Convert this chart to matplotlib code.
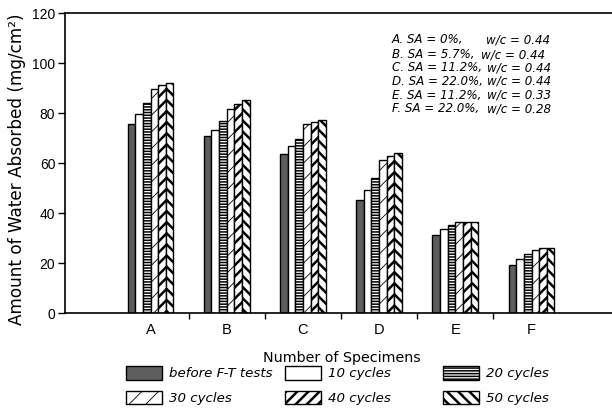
import matplotlib
matplotlib.use("Agg")
import matplotlib.pyplot as plt
from matplotlib.patches import Rectangle

# ---- data -------------------------------------------------------------
specimens = ["A", "B", "C", "D", "E", "F"]
before_ft = [75.3, 70.6, 63.6, 44.9, 30.9, 19.1]
cycles_10 = [79.6, 73.0, 66.6, 49.0, 33.4, 21.6]
cycles_20 = [84.0, 76.7, 69.6, 54.0, 34.9, 23.5]
cycles_30 = [89.6, 81.3, 75.3, 61.0, 36.4, 25.2]
cycles_40 = [91.2, 83.3, 76.3, 62.6, 36.4, 25.7]
cycles_50 = [91.7, 84.9, 77.1, 64.0, 36.4, 25.7]
series_labels = ["before F-T tests", "10 cycles", "20 cycles",
                 "30 cycles", "40 cycles", "50 cycles"]
y_ticks = [0, 20, 40, 60, 80, 100, 120]

mix_sa = ["A. SA = 0%,", "B. SA = 5.7%,", "C. SA = 11.2%,",
          "D. SA = 22.0%,", "E. SA = 11.2%,", "F. SA = 22.0%,"]
mix_wc = ["w/c = 0.44", "w/c = 0.44", "w/c = 0.44",
          "w/c = 0.44", "w/c = 0.33", "w/c = 0.28"]

series = [before_ft, cycles_10, cycles_20, cycles_30, cycles_40, cycles_50]

# fill / hatch style of each series: (facecolor, hatch, hatch linewidth)
styles = [
    ("#5e5e5e", None, 1.0),
    ("white", None, 1.0),
    ("white", "------", 1.1),
    ("white", "//", 0.6),
    ("white", "///", 1.8),
    ("white", "\\\\\\", 1.8),
]

W, H = 612, 410
fig = plt.figure(figsize=(W / 100, H / 100), dpi=100)


def fx(px):
    return px / W


def fy(py):
    return 1 - py / H


ax = fig.add_axes([fx(65), fy(313.5), fx(612 - 65), (313.5 - 13.5) / H])

bar_w = 0.1
n = len(series)
for j, (vals, (fc, hatch, hlw)) in enumerate(zip(series, styles)):
    xs = [i + (j - (n - 1) / 2) * bar_w for i in range(len(specimens))]
    with plt.rc_context({"hatch.linewidth": hlw}):
        bars = ax.bar(xs, vals, width=bar_w, color=fc, edgecolor="black",
                      linewidth=1.0, hatch=hatch, zorder=2)
    for b in bars:
        if hasattr(b, "set_hatch_linewidth"):
            b.set_hatch_linewidth(hlw)

ax.set_xlim(-1.122, 6.056)
ax.set_ylim(0, 120)
ax.set_yticks(y_ticks)
ax.set_yticklabels([str(t) for t in y_ticks], family="Liberation Sans",
                   fontsize=10)
ax.set_xticks(range(len(specimens)))
ax.set_xticklabels(specimens, family="Liberation Sans", fontsize=10.5)
ax.set_xticks([i + 0.5 for i in range(len(specimens) - 1)], minor=True)
ax.tick_params(axis="x", which="major", length=0, pad=6.5)
ax.tick_params(axis="x", which="minor", length=4, width=1.0, direction="out")
ax.tick_params(axis="y", length=5, width=1.0, direction="out", pad=2)

for side in ("left", "top", "bottom"):
    ax.spines[side].set_linewidth(1.2)
ax.spines["right"].set_visible(False)

# axis titles
fig.text(fx(17), fy(169), "Amount of Water Absorbed (mg/cm\u00b2)",
         rotation=90, ha="center", va="center", family="DejaVu Sans",
         fontsize=12.2)
fig.text(fx(341.5), fy(358.5), "Number of Specimens", ha="center",
         va="center", family="DejaVu Sans", fontsize=10.3)

# mix description block
line_y = [40, 54.5, 68, 81.5, 95, 108.5]
wc_x = [486, 481, 487, 487, 487, 487]
for sa, wc, yy, wx in zip(mix_sa, mix_wc, line_y, wc_x):
    fig.text(fx(391.7), fy(yy), sa, ha="left", va="center",
             family="DejaVu Sans", style="italic", fontsize=8.6)
    fig.text(fx(wx), fy(yy), wc, ha="left", va="center",
             family="DejaVu Sans", style="italic", fontsize=8.6)

# legend
patch_x = [126, 285, 443.3]
text_x = [169.3, 328.3, 486]
row_top = [367.3, 391.7]
pw, ph = 35.7, 13.4
for k, (label, (fc, hatch, hlw)) in enumerate(zip(series_labels, styles)):
    r, c = divmod(k, 3)
    with plt.rc_context({"hatch.linewidth": hlw}):
        rect = Rectangle((fx(patch_x[c]), fy(row_top[r] + ph)), fx(pw), ph / H,
                         transform=fig.transFigure, facecolor=fc,
                         edgecolor="black", linewidth=1.0, hatch=hatch)
    if hasattr(rect, "set_hatch_linewidth"):
        rect.set_hatch_linewidth(hlw)
    fig.add_artist(rect)
    fig.text(fx(text_x[c]), fy(row_top[r] + ph / 2), label, ha="left",
             va="center", family="DejaVu Sans", style="italic",
             fontsize=9.6)

fig.savefig("out.png", dpi=100)
